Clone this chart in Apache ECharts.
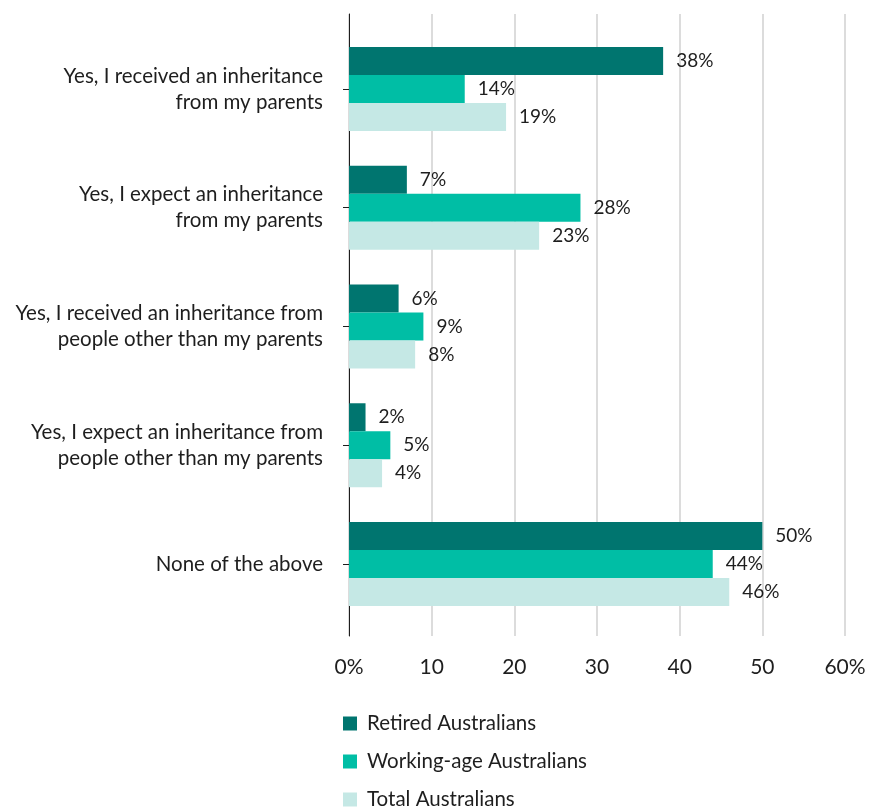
<!DOCTYPE html>
<html>
<head>
<meta charset="utf-8">
<script src="https://cdn.jsdelivr.net/npm/echarts@6/dist/echarts.min.js"></script>
<style>
  html, body { margin: 0; padding: 0; background: #ffffff; }
  #chart { width: 882px; height: 807px; }
</style>
</head>
<body>
<div id="chart"></div>
<script>
// Survey answers (top to bottom)
const categories = [
  'Yes, I received an inheritance\nfrom my parents',
  'Yes, I expect an inheritance\nfrom my parents',
  'Yes, I received an inheritance from\npeople other than my parents',
  'Yes, I expect an inheritance from\npeople other than my parents',
  'None of the above'
];
const seriesNames = ['Retired Australians', 'Working-age Australians', 'Total Australians'];
const retired = [38, 7, 6, 2, 50];
const workingAge = [14, 28, 9, 5, 44];
const total = [19, 23, 8, 4, 46];
const xTicks = ['0%', '10', '20', '30', '40', '50', '60%'];

const colors = ['#00756f', '#00bea5', '#c5e8e5'];
const FONT = 'Lato';
const TEXT = '#1e1e1e';

const chart = echarts.init(document.getElementById('chart'));

function barSeries(name, data, color) {
  return {
    name: name,
    type: 'bar',
    xAxisIndex: 1,
    yAxisIndex: 1,
    data: data,
    barWidth: 28,
    barGap: '0%',
    itemStyle: { color: color },
    label: {
      show: true,
      position: 'right',
      distance: 13,
      formatter: '{c}%',
      fontFamily: FONT,
      fontSize: 19,
      color: TEXT
    },
    emphasis: { disabled: true }
  };
}

chart.setOption({
  animation: false,
  textStyle: { fontFamily: FONT },
  legend: {
    orient: 'vertical',
    left: 338,
    top: 708,
    height: 200,
    itemWidth: 14,
    itemHeight: 14,
    itemGap: 17,
    icon: 'rect',
    data: seriesNames,
    textStyle: { fontFamily: FONT, fontSize: 20.5, color: TEXT, padding: [0, 0, 0, 5] }
  },
  grid: [
    // frame: vertical gridlines, value axis labels, left axis line
    { left: 349, right: 37, top: 14, bottom: 171 },
    // bars and category labels
    { left: 349, right: 37, top: 29.6, bottom: 183.6 }
  ],
  xAxis: [
    {
      gridIndex: 0,
      type: 'value',
      min: 0,
      max: 60,
      interval: 10,
      axisLine: { show: false },
      axisTick: { show: false },
      splitLine: { show: true, lineStyle: { color: '#dcdcdc', width: 2 } },
      axisLabel: {
        margin: 21,
        fontFamily: FONT,
        fontSize: 21,
        color: TEXT,
        formatter: function (v) { return xTicks[Math.round(v / 10)]; }
      }
    },
    {
      gridIndex: 1,
      type: 'value',
      min: 0,
      max: 60,
      show: false
    }
  ],
  yAxis: [
    {
      gridIndex: 0,
      type: 'value',
      min: 0,
      max: 1,
      axisLine: { show: true, lineStyle: { color: '#1e1e1e', width: 1 } },
      axisTick: { show: false },
      axisLabel: { show: false },
      splitLine: { show: false }
    },
    {
      gridIndex: 1,
      type: 'category',
      inverse: true,
      data: categories,
      axisLine: { show: false },
      axisTick: { show: true, alignWithLabel: true, length: 6, lineStyle: { color: '#1e1e1e' } },
      axisLabel: {
        margin: 26,
        fontFamily: FONT,
        fontSize: 20.5,
        lineHeight: 26,
        color: TEXT,
        align: 'right'
      }
    }
  ],
  series: [
    barSeries(seriesNames[0], retired, colors[0]),
    barSeries(seriesNames[1], workingAge, colors[1]),
    barSeries(seriesNames[2], total, colors[2])
  ]
});
</script>
</body>
</html>
